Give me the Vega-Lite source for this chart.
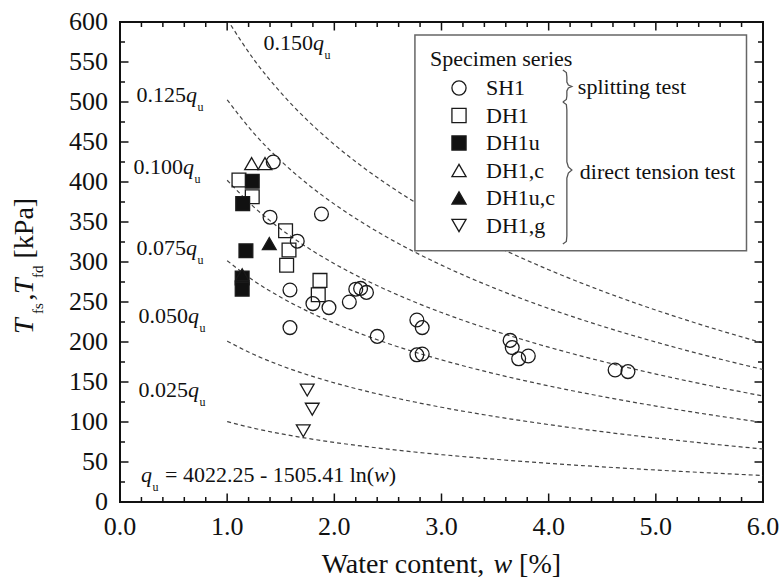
{
  "$schema": "https://vega.github.io/schema/vega-lite/v6.json",
  "width": 643,
  "height": 480,
  "autosize": {"type": "none"},
  "padding": {"left": 120, "top": 22, "right": 21, "bottom": 84},
  "background": "white",
  "config": {
    "view": {"stroke": "#111", "strokeWidth": 2},
    "text": {"font": "Liberation Serif", "color": "#111"}
  },
  "datasets": {
    "curves": [
      {"k":"0.025","w":1,"T":100.56},{"k":"0.025","w":1.25,"T":92.16},{"k":"0.025","w":1.5,"T":85.30},{"k":"0.025","w":1.75,"T":79.50},{"k":"0.025","w":2,"T":74.47},{"k":"0.025","w":2.25,"T":70.04},{"k":"0.025","w":2.5,"T":66.07},{"k":"0.025","w":2.75,"T":62.48},{"k":"0.025","w":3,"T":59.21},{"k":"0.025","w":3.5,"T":53.41},{"k":"0.025","w":4,"T":48.38},{"k":"0.025","w":4.5,"T":43.95},{"k":"0.025","w":5,"T":39.98},{"k":"0.025","w":5.5,"T":36.40},{"k":"0.025","w":6,"T":33.12},
      {"k":"0.050","w":1,"T":201.11},{"k":"0.050","w":1.25,"T":184.32},{"k":"0.050","w":1.5,"T":170.59},{"k":"0.050","w":1.75,"T":158.99},{"k":"0.050","w":2,"T":148.94},{"k":"0.050","w":2.25,"T":140.07},{"k":"0.050","w":2.5,"T":132.14},{"k":"0.050","w":2.75,"T":124.97},{"k":"0.050","w":3,"T":118.42},{"k":"0.050","w":3.5,"T":106.82},{"k":"0.050","w":4,"T":96.77},{"k":"0.050","w":4.5,"T":87.90},{"k":"0.050","w":5,"T":79.97},{"k":"0.050","w":5.5,"T":72.80},{"k":"0.050","w":6,"T":66.25},
      {"k":"0.075","w":1,"T":301.67},{"k":"0.075","w":1.25,"T":276.47},{"k":"0.075","w":1.5,"T":255.89},{"k":"0.075","w":1.75,"T":238.49},{"k":"0.075","w":2,"T":223.41},{"k":"0.075","w":2.25,"T":210.11},{"k":"0.075","w":2.5,"T":198.21},{"k":"0.075","w":2.75,"T":187.45},{"k":"0.075","w":3,"T":177.63},{"k":"0.075","w":3.5,"T":160.22},{"k":"0.075","w":4,"T":145.15},{"k":"0.075","w":4.5,"T":131.85},{"k":"0.075","w":5,"T":119.95},{"k":"0.075","w":5.5,"T":109.19},{"k":"0.075","w":6,"T":99.37},
      {"k":"0.100","w":1,"T":402.23},{"k":"0.100","w":1.25,"T":368.63},{"k":"0.100","w":1.5,"T":341.19},{"k":"0.100","w":1.75,"T":317.98},{"k":"0.100","w":2,"T":297.88},{"k":"0.100","w":2.25,"T":280.15},{"k":"0.100","w":2.5,"T":264.29},{"k":"0.100","w":2.75,"T":249.94},{"k":"0.100","w":3,"T":236.84},{"k":"0.100","w":3.5,"T":213.63},{"k":"0.100","w":4,"T":193.53},{"k":"0.100","w":4.5,"T":175.80},{"k":"0.100","w":5,"T":159.94},{"k":"0.100","w":5.5,"T":145.59},{"k":"0.100","w":6,"T":132.49},
      {"k":"0.125","w":1,"T":502.78},{"k":"0.125","w":1.25,"T":460.79},{"k":"0.125","w":1.5,"T":426.48},{"k":"0.125","w":1.75,"T":397.48},{"k":"0.125","w":2,"T":372.35},{"k":"0.125","w":2.25,"T":350.18},{"k":"0.125","w":2.5,"T":330.36},{"k":"0.125","w":2.75,"T":312.42},{"k":"0.125","w":3,"T":296.05},{"k":"0.125","w":3.5,"T":267.04},{"k":"0.125","w":4,"T":241.91},{"k":"0.125","w":4.5,"T":219.75},{"k":"0.125","w":5,"T":199.92},{"k":"0.125","w":5.5,"T":181.99},{"k":"0.125","w":6,"T":165.62},
      {"k":"0.150","w":1,"T":603.34},{"k":"0.150","w":1.25,"T":552.95},{"k":"0.150","w":1.5,"T":511.78},{"k":"0.150","w":1.75,"T":476.97},{"k":"0.150","w":2,"T":446.82},{"k":"0.150","w":2.25,"T":420.22},{"k":"0.150","w":2.5,"T":396.43},{"k":"0.150","w":2.75,"T":374.91},{"k":"0.150","w":3,"T":355.26},{"k":"0.150","w":3.5,"T":320.45},{"k":"0.150","w":4,"T":290.30},{"k":"0.150","w":4.5,"T":263.70},{"k":"0.150","w":5,"T":239.91},{"k":"0.150","w":5.5,"T":218.39},{"k":"0.150","w":6,"T":198.74}
    ],
    "pts": [
      {"series":"SH1","w":1.43,"T":425},
      {"series":"SH1","w":1.40,"T":356},
      {"series":"SH1","w":1.88,"T":360},
      {"series":"SH1","w":1.654,"T":326},
      {"series":"SH1","w":1.586,"T":265},
      {"series":"SH1","w":1.80,"T":248},
      {"series":"SH1","w":1.95,"T":243},
      {"series":"SH1","w":2.14,"T":250},
      {"series":"SH1","w":2.20,"T":266},
      {"series":"SH1","w":2.245,"T":267},
      {"series":"SH1","w":2.30,"T":262},
      {"series":"SH1","w":1.586,"T":218},
      {"series":"SH1","w":2.40,"T":207},
      {"series":"SH1","w":2.77,"T":227.5},
      {"series":"SH1","w":2.82,"T":218},
      {"series":"SH1","w":2.77,"T":184},
      {"series":"SH1","w":2.82,"T":185},
      {"series":"SH1","w":3.64,"T":202},
      {"series":"SH1","w":3.66,"T":193},
      {"series":"SH1","w":3.72,"T":179},
      {"series":"SH1","w":3.81,"T":182.5},
      {"series":"SH1","w":4.62,"T":165},
      {"series":"SH1","w":4.74,"T":163},
      {"series":"DH1","w":1.11,"T":402.5},
      {"series":"DH1","w":1.234,"T":381.5},
      {"series":"DH1","w":1.545,"T":339},
      {"series":"DH1","w":1.577,"T":315},
      {"series":"DH1","w":1.555,"T":296},
      {"series":"DH1","w":1.866,"T":277},
      {"series":"DH1","w":1.85,"T":259},
      {"series":"DH1u","w":1.234,"T":401},
      {"series":"DH1u","w":1.145,"T":373},
      {"series":"DH1u","w":1.175,"T":314},
      {"series":"DH1u","w":1.14,"T":280},
      {"series":"DH1u","w":1.14,"T":266},
      {"series":"DH1,c","w":1.228,"T":423},
      {"series":"DH1,c","w":1.353,"T":423},
      {"series":"DH1u,c","w":1.393,"T":323},
      {"series":"DH1u,c","w":1.14,"T":284},
      {"series":"DH1,g","w":1.747,"T":140},
      {"series":"DH1,g","w":1.794,"T":116},
      {"series":"DH1,g","w":1.71,"T":89}
    ],
    "box": [{"w":2.752,"w2":5.846,"T":583.75,"T2":314.1}],
    "braces": [
      {"id":"a","i":0,"w":4.1325,"T":540},{"id":"a","i":1,"w":4.1651,"T":536.875},{"id":"a","i":2,"w":4.1698,"T":531.25},{"id":"a","i":3,"w":4.1698,"T":525},{"id":"a","i":4,"w":4.1838,"T":521.25},{"id":"a","i":5,"w":4.2164,"T":519.375},{"id":"a","i":6,"w":4.1838,"T":517.5},{"id":"a","i":7,"w":4.1698,"T":513.75},{"id":"a","i":8,"w":4.1698,"T":507.5},{"id":"a","i":9,"w":4.1651,"T":503.125},{"id":"a","i":10,"w":4.1325,"T":500},
      {"id":"b","i":0,"w":4.1325,"T":500},{"id":"b","i":1,"w":4.1651,"T":496.875},{"id":"b","i":2,"w":4.1698,"T":490},{"id":"b","i":3,"w":4.1698,"T":425},{"id":"b","i":4,"w":4.1838,"T":418.75},{"id":"b","i":5,"w":4.2164,"T":415},{"id":"b","i":6,"w":4.1838,"T":411.25},{"id":"b","i":7,"w":4.1698,"T":405},{"id":"b","i":8,"w":4.1698,"T":332.5},{"id":"b","i":9,"w":4.1651,"T":325.625},{"id":"b","i":10,"w":4.1325,"T":322.5}
    ],
    "xmaj": [
      {"w":0,"T":0},{"w":1,"T":0},{"w":2,"T":0},{"w":3,"T":0},{"w":4,"T":0},{"w":5,"T":0},{"w":6,"T":0},
      {"w":0,"T":600},{"w":1,"T":600},{"w":2,"T":600},{"w":3,"T":600},{"w":4,"T":600},{"w":5,"T":600},{"w":6,"T":600}
    ],
    "xmin": [
      {"w":0.2,"T":0},{"w":0.4,"T":0},{"w":0.6,"T":0},{"w":0.8,"T":0},{"w":1.2,"T":0},{"w":1.4,"T":0},{"w":1.6,"T":0},{"w":1.8,"T":0},{"w":2.2,"T":0},{"w":2.4,"T":0},{"w":2.6,"T":0},{"w":2.8,"T":0},{"w":3.2,"T":0},{"w":3.4,"T":0},{"w":3.6,"T":0},{"w":3.8,"T":0},{"w":4.2,"T":0},{"w":4.4,"T":0},{"w":4.6,"T":0},{"w":4.8,"T":0},{"w":5.2,"T":0},{"w":5.4,"T":0},{"w":5.6,"T":0},{"w":5.8,"T":0},
      {"w":0.2,"T":600},{"w":0.4,"T":600},{"w":0.6,"T":600},{"w":0.8,"T":600},{"w":1.2,"T":600},{"w":1.4,"T":600},{"w":1.6,"T":600},{"w":1.8,"T":600},{"w":2.2,"T":600},{"w":2.4,"T":600},{"w":2.6,"T":600},{"w":2.8,"T":600},{"w":3.2,"T":600},{"w":3.4,"T":600},{"w":3.6,"T":600},{"w":3.8,"T":600},{"w":4.2,"T":600},{"w":4.4,"T":600},{"w":4.6,"T":600},{"w":4.8,"T":600},{"w":5.2,"T":600},{"w":5.4,"T":600},{"w":5.6,"T":600},{"w":5.8,"T":600}
    ],
    "ymaj": [
      {"w":0,"T":0},{"w":0,"T":50},{"w":0,"T":100},{"w":0,"T":150},{"w":0,"T":200},{"w":0,"T":250},{"w":0,"T":300},{"w":0,"T":350},{"w":0,"T":400},{"w":0,"T":450},{"w":0,"T":500},{"w":0,"T":550},{"w":0,"T":600},
      {"w":6,"T":0},{"w":6,"T":50},{"w":6,"T":100},{"w":6,"T":150},{"w":6,"T":200},{"w":6,"T":250},{"w":6,"T":300},{"w":6,"T":350},{"w":6,"T":400},{"w":6,"T":450},{"w":6,"T":500},{"w":6,"T":550},{"w":6,"T":600}
    ],
    "ymin": [
      {"w":0,"T":25},{"w":0,"T":75},{"w":0,"T":125},{"w":0,"T":175},{"w":0,"T":225},{"w":0,"T":275},{"w":0,"T":325},{"w":0,"T":375},{"w":0,"T":425},{"w":0,"T":475},{"w":0,"T":525},{"w":0,"T":575},
      {"w":6,"T":25},{"w":6,"T":75},{"w":6,"T":125},{"w":6,"T":175},{"w":6,"T":225},{"w":6,"T":275},{"w":6,"T":325},{"w":6,"T":375},{"w":6,"T":425},{"w":6,"T":475},{"w":6,"T":525},{"w":6,"T":575}
    ],
    "xlabels": [
      {"w":0,"T":0,"lab":"0.0"},{"w":1,"T":0,"lab":"1.0"},{"w":2,"T":0,"lab":"2.0"},{"w":3,"T":0,"lab":"3.0"},{"w":4,"T":0,"lab":"4.0"},{"w":5,"T":0,"lab":"5.0"},{"w":6,"T":0,"lab":"6.0"}
    ],
    "ylabels": [
      {"w":0,"T":0,"lab":"0"},{"w":0,"T":50,"lab":"50"},{"w":0,"T":100,"lab":"100"},{"w":0,"T":150,"lab":"150"},{"w":0,"T":200,"lab":"200"},{"w":0,"T":250,"lab":"250"},{"w":0,"T":300,"lab":"300"},{"w":0,"T":350,"lab":"350"},{"w":0,"T":400,"lab":"400"},{"w":0,"T":450,"lab":"450"},{"w":0,"T":500,"lab":"500"},{"w":0,"T":550,"lab":"550"},{"w":0,"T":600,"lab":"600"}
    ],
    "qlab": [
      {"num":"0.150","w":1.800,"T":564.4},
      {"num":"0.125","w":0.616,"T":500.4},
      {"num":"0.100","w":0.588,"T":410},
      {"num":"0.075","w":0.616,"T":308.75},
      {"num":"0.050","w":0.634,"T":223.4},
      {"num":"0.025","w":0.634,"T":131.6},
      {"num":"","w":0.196,"T":25.4}
    ],
    "eqreg": [
      {"t":"= 4022.25 - 1505.41 ln(","w":0.4198,"T":25.4},
      {"t":")","w":2.508,"T":25.4}
    ],
    "eqit": [{"t":"w","w":2.371,"T":25.4}],
    "xtreg": [
      {"t":"Water content,","w":1.8816,"T":-88.75},
      {"t":"[%]","w":3.724,"T":-88.75}
    ],
    "xtit": [{"t":"w","w":3.4842,"T":-88.75}],
    "ytit": [{"t":"T","w":-0.8116,"T":210},{"t":"T","w":-0.8116,"T":260}],
    "ysub": [{"t":"fs","w":-0.718,"T":235},{"t":"fd","w":-0.718,"T":280}],
    "yreg": [{"t":",","w":-0.8116,"T":251.9},{"t":"[kPa]","w":-0.8116,"T":304.4}],
    "legtxt": [
      {"t":"splitting test","w":4.2724,"T":509.6},
      {"t":"direct tension test","w":4.291,"T":403.4}
    ]
  },
  "layer": [
    {
      "data": {"name": "curves"},
      "mark": {"type": "line", "stroke": "#444", "strokeWidth": 1.2, "strokeDash": [4, 3], "interpolate": "monotone", "clip": true},
      "encoding": {
        "x": {"field": "w", "type": "quantitative", "scale": {"domain": [0, 6], "nice": false, "zero": false}, "axis": null},
        "y": {"field": "T", "type": "quantitative", "scale": {"domain": [0, 600], "nice": false, "zero": false}, "axis": null},
        "detail": {"field": "k"}
      }
    },
    {
      "data": {"name": "xmaj"},
      "mark": {"type": "tick", "orient": "vertical", "size": 17, "thickness": 1.5, "color": "#111", "opacity": 1, "clip": true},
      "encoding": {
        "x": {"field": "w", "type": "quantitative", "scale": {"domain": [0, 6], "nice": false, "zero": false}, "axis": null},
        "y": {"field": "T", "type": "quantitative", "scale": {"domain": [0, 600], "nice": false, "zero": false}, "axis": null}
      }
    },
    {
      "data": {"name": "xmin"},
      "mark": {"type": "tick", "orient": "vertical", "size": 10, "thickness": 1.5, "color": "#111", "opacity": 1, "clip": true},
      "encoding": {
        "x": {"field": "w", "type": "quantitative", "scale": {"domain": [0, 6], "nice": false, "zero": false}, "axis": null},
        "y": {"field": "T", "type": "quantitative", "scale": {"domain": [0, 600], "nice": false, "zero": false}, "axis": null}
      }
    },
    {
      "data": {"name": "ymaj"},
      "mark": {"type": "tick", "orient": "horizontal", "size": 17, "thickness": 1.5, "color": "#111", "opacity": 1, "clip": true},
      "encoding": {
        "x": {"field": "w", "type": "quantitative", "scale": {"domain": [0, 6], "nice": false, "zero": false}, "axis": null},
        "y": {"field": "T", "type": "quantitative", "scale": {"domain": [0, 600], "nice": false, "zero": false}, "axis": null}
      }
    },
    {
      "data": {"name": "ymin"},
      "mark": {"type": "tick", "orient": "horizontal", "size": 10, "thickness": 1.5, "color": "#111", "opacity": 1, "clip": true},
      "encoding": {
        "x": {"field": "w", "type": "quantitative", "scale": {"domain": [0, 6], "nice": false, "zero": false}, "axis": null},
        "y": {"field": "T", "type": "quantitative", "scale": {"domain": [0, 600], "nice": false, "zero": false}, "axis": null}
      }
    },
    {
      "data": {"name": "xlabels"},
      "mark": {"type": "text", "align": "center", "baseline": "top", "dy": 12, "fontSize": 26, "font": "Liberation Serif", "color": "#111"},
      "encoding": {
        "x": {"field": "w", "type": "quantitative", "scale": {"domain": [0, 6], "nice": false, "zero": false}, "axis": null},
        "y": {"field": "T", "type": "quantitative", "scale": {"domain": [0, 600], "nice": false, "zero": false}, "axis": null},
        "text": {"field": "lab"}
      }
    },
    {
      "data": {"name": "ylabels"},
      "mark": {"type": "text", "align": "right", "baseline": "middle", "dx": -12, "fontSize": 26, "font": "Liberation Serif", "color": "#111"},
      "encoding": {
        "x": {"field": "w", "type": "quantitative", "scale": {"domain": [0, 6], "nice": false, "zero": false}, "axis": null},
        "y": {"field": "T", "type": "quantitative", "scale": {"domain": [0, 600], "nice": false, "zero": false}, "axis": null},
        "text": {"field": "lab"}
      }
    },
    {
      "data": {"name": "box"},
      "mark": {"type": "rect", "fill": "white", "stroke": "#666", "strokeWidth": 1.5},
      "encoding": {
        "x": {"field": "w", "type": "quantitative", "scale": {"domain": [0, 6], "nice": false, "zero": false}, "axis": null},
        "x2": {"field": "w2"},
        "y": {"field": "T", "type": "quantitative", "scale": {"domain": [0, 600], "nice": false, "zero": false}, "axis": null},
        "y2": {"field": "T2"}
      }
    },
    {
      "data": {"name": "pts"},
      "mark": {"type": "point", "filled": true, "size": 190, "stroke": "#1a1a1a", "strokeWidth": 1.3, "opacity": 1},
      "encoding": {
        "x": {"field": "w", "type": "quantitative", "scale": {"domain": [0, 6], "nice": false, "zero": false}, "axis": null},
        "y": {"field": "T", "type": "quantitative", "scale": {"domain": [0, 600], "nice": false, "zero": false}, "axis": null},
        "shape": {"field": "series", "type": "nominal",
          "scale": {"domain": ["SH1","DH1","DH1u","DH1,c","DH1u,c","DH1,g"], "range": ["circle","square","square","triangle-up","triangle-up","triangle-down"]},
          "legend": {"orient": "none", "legendX": 310, "legendY": 27, "title": "Specimen series", "titleFont": "Liberation Serif", "titleFontSize": 22, "titleFontWeight": "normal", "titleColor": "#111", "titlePadding": 6, "labelFont": "Liberation Serif", "labelFontSize": 22, "labelColor": "#111", "symbolSize": 200, "symbolStrokeWidth": 1.3, "symbolStrokeColor": "#1a1a1a", "symbolOpacity": 1, "symbolOffset": 18, "labelOffset": 16, "rowPadding": 5.5, "padding": 0,
            "encode": {"symbols": {"update": {"stroke": {"value": "#1a1a1a"}, "strokeWidth": {"value": 1.3}}}}}},
        "fill": {"field": "series", "type": "nominal",
          "scale": {"domain": ["SH1","DH1","DH1u","DH1,c","DH1u,c","DH1,g"], "range": ["transparent","transparent","#111","transparent","#111","transparent"]},
          "legend": {"orient": "none", "legendX": 310, "legendY": 27, "title": "Specimen series", "titleFont": "Liberation Serif", "titleFontSize": 22, "titleFontWeight": "normal", "titleColor": "#111", "titlePadding": 6, "labelFont": "Liberation Serif", "labelFontSize": 22, "labelColor": "#111", "symbolSize": 200, "symbolStrokeWidth": 1.3, "symbolStrokeColor": "#1a1a1a", "symbolOpacity": 1, "symbolOffset": 18, "labelOffset": 16, "rowPadding": 5.5, "padding": 0,
            "encode": {"symbols": {"update": {"stroke": {"value": "#1a1a1a"}, "strokeWidth": {"value": 1.3}}}}}}
      }
    },
    {
      "data": {"name": "braces"},
      "mark": {"type": "line", "stroke": "#555", "strokeWidth": 1.3},
      "encoding": {
        "x": {"field": "w", "type": "quantitative", "scale": {"domain": [0, 6], "nice": false, "zero": false}, "axis": null},
        "y": {"field": "T", "type": "quantitative", "scale": {"domain": [0, 600], "nice": false, "zero": false}, "axis": null},
        "detail": {"field": "id"},
        "order": {"field": "i", "type": "quantitative"}
      }
    },
    {
      "data": {"name": "qlab"},
      "mark": {"type": "text", "align": "right", "baseline": "alphabetic", "fontSize": 22, "font": "Liberation Serif", "color": "#111"},
      "encoding": {
        "x": {"field": "w", "type": "quantitative", "scale": {"domain": [0, 6], "nice": false, "zero": false}, "axis": null},
        "y": {"field": "T", "type": "quantitative", "scale": {"domain": [0, 600], "nice": false, "zero": false}, "axis": null},
        "text": {"field": "num"}
      }
    },
    {
      "data": {"name": "qlab"},
      "mark": {"type": "text", "align": "left", "baseline": "alphabetic", "fontSize": 22, "fontStyle": "italic", "font": "Liberation Serif", "color": "#111"},
      "encoding": {
        "x": {"field": "w", "type": "quantitative", "scale": {"domain": [0, 6], "nice": false, "zero": false}, "axis": null},
        "y": {"field": "T", "type": "quantitative", "scale": {"domain": [0, 600], "nice": false, "zero": false}, "axis": null},
        "text": {"value": "q"}
      }
    },
    {
      "data": {"name": "qlab"},
      "mark": {"type": "text", "align": "left", "baseline": "alphabetic", "fontSize": 12, "font": "Liberation Serif", "color": "#111", "dx": 11.5, "dy": 9},
      "encoding": {
        "x": {"field": "w", "type": "quantitative", "scale": {"domain": [0, 6], "nice": false, "zero": false}, "axis": null},
        "y": {"field": "T", "type": "quantitative", "scale": {"domain": [0, 600], "nice": false, "zero": false}, "axis": null},
        "text": {"value": "u"}
      }
    },
    {
      "data": {"name": "eqreg"},
      "mark": {"type": "text", "align": "left", "baseline": "alphabetic", "fontSize": 22, "font": "Liberation Serif", "color": "#111"},
      "encoding": {
        "x": {"field": "w", "type": "quantitative", "scale": {"domain": [0, 6], "nice": false, "zero": false}, "axis": null},
        "y": {"field": "T", "type": "quantitative", "scale": {"domain": [0, 600], "nice": false, "zero": false}, "axis": null},
        "text": {"field": "t"}
      }
    },
    {
      "data": {"name": "eqit"},
      "mark": {"type": "text", "align": "left", "baseline": "alphabetic", "fontSize": 22, "fontStyle": "italic", "font": "Liberation Serif", "color": "#111"},
      "encoding": {
        "x": {"field": "w", "type": "quantitative", "scale": {"domain": [0, 6], "nice": false, "zero": false}, "axis": null},
        "y": {"field": "T", "type": "quantitative", "scale": {"domain": [0, 600], "nice": false, "zero": false}, "axis": null},
        "text": {"field": "t"}
      }
    },
    {
      "data": {"name": "legtxt"},
      "mark": {"type": "text", "align": "left", "baseline": "alphabetic", "fontSize": 22, "font": "Liberation Serif", "color": "#111"},
      "encoding": {
        "x": {"field": "w", "type": "quantitative", "scale": {"domain": [0, 6], "nice": false, "zero": false}, "axis": null},
        "y": {"field": "T", "type": "quantitative", "scale": {"domain": [0, 600], "nice": false, "zero": false}, "axis": null},
        "text": {"field": "t"}
      }
    },
    {
      "data": {"name": "xtreg"},
      "mark": {"type": "text", "align": "left", "baseline": "alphabetic", "fontSize": 28, "font": "Liberation Serif", "color": "#111"},
      "encoding": {
        "x": {"field": "w", "type": "quantitative", "scale": {"domain": [0, 6], "nice": false, "zero": false}, "axis": null},
        "y": {"field": "T", "type": "quantitative", "scale": {"domain": [0, 600], "nice": false, "zero": false}, "axis": null},
        "text": {"field": "t"}
      }
    },
    {
      "data": {"name": "xtit"},
      "mark": {"type": "text", "align": "left", "baseline": "alphabetic", "fontSize": 28, "fontStyle": "italic", "font": "Liberation Serif", "color": "#111"},
      "encoding": {
        "x": {"field": "w", "type": "quantitative", "scale": {"domain": [0, 6], "nice": false, "zero": false}, "axis": null},
        "y": {"field": "T", "type": "quantitative", "scale": {"domain": [0, 600], "nice": false, "zero": false}, "axis": null},
        "text": {"field": "t"}
      }
    },
    {
      "data": {"name": "ytit"},
      "mark": {"type": "text", "align": "left", "baseline": "alphabetic", "angle": 270, "fontSize": 28, "fontStyle": "italic", "font": "Liberation Serif", "color": "#111"},
      "encoding": {
        "x": {"field": "w", "type": "quantitative", "scale": {"domain": [0, 6], "nice": false, "zero": false}, "axis": null},
        "y": {"field": "T", "type": "quantitative", "scale": {"domain": [0, 600], "nice": false, "zero": false}, "axis": null},
        "text": {"field": "t"}
      }
    },
    {
      "data": {"name": "ysub"},
      "mark": {"type": "text", "align": "left", "baseline": "alphabetic", "angle": 270, "fontSize": 15, "font": "Liberation Serif", "color": "#111"},
      "encoding": {
        "x": {"field": "w", "type": "quantitative", "scale": {"domain": [0, 6], "nice": false, "zero": false}, "axis": null},
        "y": {"field": "T", "type": "quantitative", "scale": {"domain": [0, 600], "nice": false, "zero": false}, "axis": null},
        "text": {"field": "t"}
      }
    },
    {
      "data": {"name": "yreg"},
      "mark": {"type": "text", "align": "left", "baseline": "alphabetic", "angle": 270, "fontSize": 28, "font": "Liberation Serif", "color": "#111"},
      "encoding": {
        "x": {"field": "w", "type": "quantitative", "scale": {"domain": [0, 6], "nice": false, "zero": false}, "axis": null},
        "y": {"field": "T", "type": "quantitative", "scale": {"domain": [0, 600], "nice": false, "zero": false}, "axis": null},
        "text": {"field": "t"}
      }
    }
  ]
}
